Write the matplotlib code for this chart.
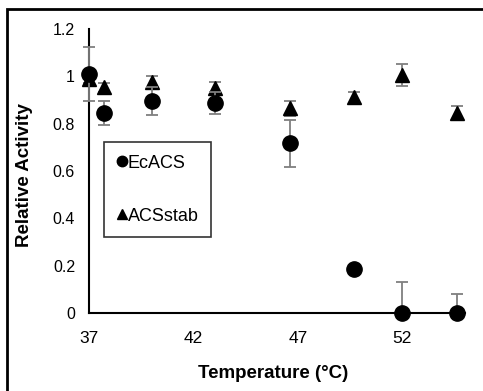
import matplotlib
matplotlib.use("Agg")
import matplotlib.pyplot as plt
from matplotlib.patches import Rectangle
from matplotlib.lines import Line2D

plt.rcParams['font.family'] = ['Liberation Sans', 'DejaVu Sans']

temps = [37, 37.7, 40, 43.05, 46.6, 49.7, 52, 54.6]
ecacs = [1.01, 0.846, 0.895, 0.886, 0.717, 0.185, 0.0, 0.0]
ecacs_err = [0.115, 0.05, 0.06, 0.046, 0.10, 0.0, 0.131, 0.079]
acsstab = [0.99, 0.953, 0.976, 0.949, 0.865, 0.911, 1.006, 0.846]
acsstab_err = [0.02, 0.02, 0.026, 0.026, 0.031, 0.022, 0.045, 0.03]

xticks = [37, 42, 47, 52]
yticks = [0, 0.2, 0.4, 0.6, 0.8, 1, 1.2]
ytick_labels = ['0', '0.2', '0.4', '0.6', '0.8', '1', '1.2']

fig = plt.figure(figsize=(4.83, 3.91), dpi=100)
ax = fig.add_axes([89/483, 1 - 313/391, (465-89)/483, (313-29)/391])

# error bars are cut at the axis (value 0) as in the original chart
ecacs_lo = [min(e, v) for e, v in zip(ecacs_err, ecacs)]
acs_lo = [min(e, v) for e, v in zip(acsstab_err, acsstab)]

err_kw = dict(ecolor='#7f7f7f', elinewidth=1.3, capsize=4, capthick=1.3, linestyle='none')
c1 = ax.errorbar(temps, acsstab, yerr=[acs_lo, acsstab_err], fmt='^', color='black',
                 markersize=10.5, zorder=3, **err_kw)
c2 = ax.errorbar(temps, ecacs, yerr=[ecacs_lo, ecacs_err], fmt='o', color='black',
                 markersize=11, zorder=4, **err_kw)
for c in (c1, c2):
    for art in [c.lines[0]] + list(c.lines[1]) + list(c.lines[2]):
        art.set_clip_on(False)

ax.set_xlim(37, 55)
ax.set_ylim(0, 1.2)
ax.set_xticks(xticks)
ax.set_yticks(yticks)
ax.set_yticklabels(ytick_labels)
ax.tick_params(axis='y', length=0, labelsize=11.5, pad=10)
ax.tick_params(axis='x', length=0, labelsize=12.5, pad=13)
for s in ['top', 'right']:
    ax.spines[s].set_visible(False)
for s in ['left', 'bottom']:
    ax.spines[s].set_linewidth(1.5)
    ax.spines[s].set_color('black')
    ax.spines[s].set_zorder(2)

ax.set_xlabel('Temperature (°C)', fontsize=13.5, fontweight='bold')
ax.set_ylabel('Relative Activity', fontsize=13.5, fontweight='bold')
ax.xaxis.set_label_coords((273-89)/376, (313-365)/284)
ax.yaxis.set_label_coords((33-89)/376, (313-175)/284)

h1 = Line2D([], [], marker='o', color='black', linestyle='none', markersize=7.5)
h2 = Line2D([], [], marker='^', color='black', linestyle='none', markersize=7.5)
leg = ax.legend([h1, h2], ['EcACS', 'ACSstab'],
                loc='upper left', bbox_to_anchor=((104-89)/376, (313-142)/284),
                frameon=True, fancybox=False, edgecolor='black', fontsize=13,
                handletextpad=0.05, handlelength=0.55, labelspacing=2.0,
                borderpad=0.7, borderaxespad=0)
leg.get_frame().set_linewidth(1.2)

fig.patches.append(Rectangle((7/483, -0.1), 1.2, 1 - 9/391 + 0.1, transform=fig.transFigure,
                             fill=False, edgecolor='black', linewidth=2, figure=fig))

fig.savefig('out.png', dpi=100)
